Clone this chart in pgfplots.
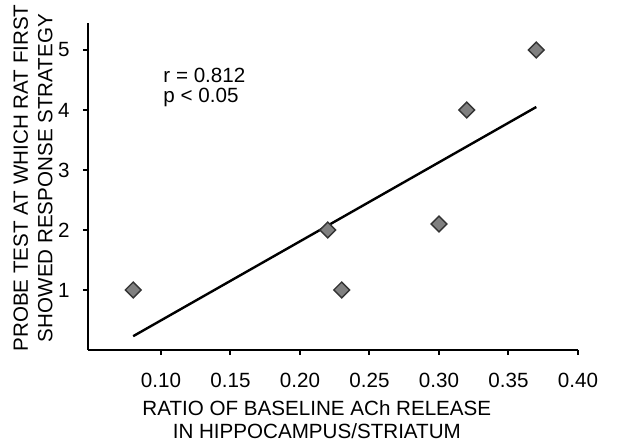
\documentclass[border=0pt]{standalone}
\usepackage{fontspec}
\setmainfont{Liberation Sans}
\usepackage{pgfplots}
\pgfplotsset{compat=1.18}

\begin{document}
\begin{tikzpicture}
\begin{axis}[
    at={(0,0)}, anchor=south west,
    scale only axis,
    width=245pt, height=163.5pt,
    xmin=0.0475, xmax=0.40,
    ymin=0, ymax=5.45,
    axis lines*=left,
    axis line style={line width=1.2pt, -},
    xtick={0.10,0.15,0.20,0.25,0.30,0.35,0.40},
    xticklabels={0.10,0.15,0.20,0.25,0.30,0.35,0.40},
    ytick={1,2,3,4,5},
    tick align=outside,
    major tick length=2.5pt,
    tick style={line width=1pt, black},
    /pgf/number format/assume math mode=true,
    tick label style={font=\fontsize{10.3}{12}\selectfont, inner sep=0pt},
    xticklabel style={anchor=north, yshift=-9pt},
    yticklabel style={anchor=east, xshift=-6.5pt},
    xlabel={RATIO OF BASELINE ACh RELEASE\\IN HIPPOCAMPUS/STRIATUM},
    ylabel={PROBE TEST AT WHICH RAT FIRST\\[0.6pt]SHOWED RESPONSE STRATEGY},
    xlabel style={font=\fontsize{10.3}{11.6}\selectfont, align=center, inner sep=0pt,
        at={(axis description cs:0.467,-0.213)}, anchor=center},
    ylabel style={font=\fontsize{10.3}{11.6}\selectfont, align=center, inner sep=0pt,
        at={(axis description cs:-0.1122,0.526)}, anchor=center},
    clip=false,
]
\addplot[black, line width=1.2pt] coordinates {(0.08,0.23) (0.37,4.05)};
\addplot[only marks, mark=square*, mark size=2.8pt,
    mark options={rotate=45, fill=black!50, draw=black!80, line width=0.7pt}]
    coordinates {(0.08,1) (0.22,2) (0.23,1) (0.30,2.1) (0.32,4) (0.37,5)};
\node[anchor=north west, align=left, inner sep=0pt,
      font=\fontsize{10.3}{10}\selectfont] at (axis cs:0.1015,4.71)
      {r = 0.812\\p < 0.05};
\end{axis}
\useasboundingbox (-44pt,-46pt) rectangle (265pt,175pt);
\end{tikzpicture}
\end{document}
